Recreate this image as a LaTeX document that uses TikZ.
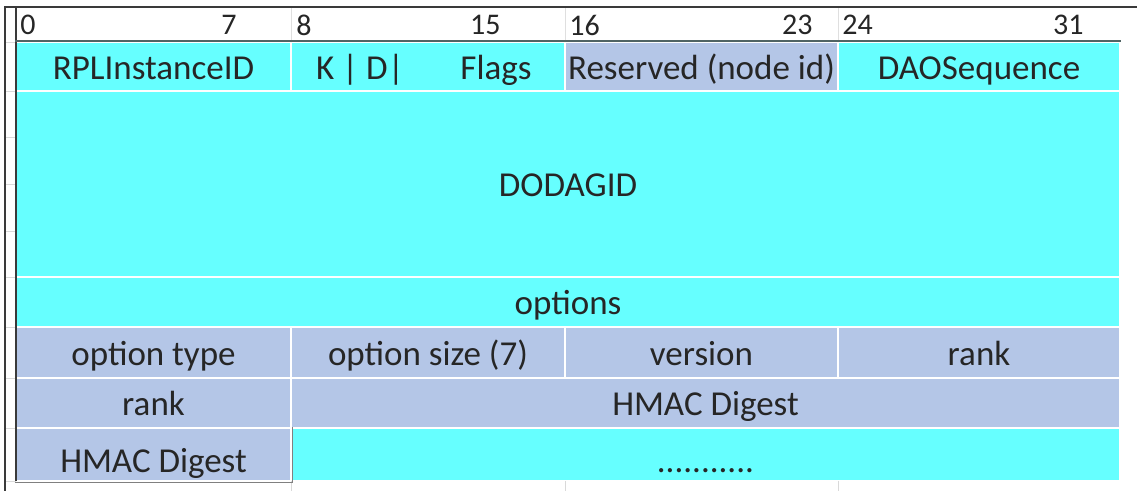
\documentclass[tikz,border=0pt]{standalone}
\usepackage{fontspec}
\setmainfont{Carlito}
\usetikzlibrary{positioning}
\definecolor{cellcyan}{HTML}{66FFFF}
\definecolor{cellgray}{HTML}{B4C6E7}
\definecolor{framegray}{HTML}{3A3A3A}
\definecolor{rulegray}{HTML}{506464}
\tikzset{
  cell/.style 2 args={draw=white, line width=1.25pt, inner sep=0pt,
    minimum width=#1*0.5pt, minimum height=#2*0.5pt,
    text height=15pt, text depth=2.3pt,
    font=\fontsize{17.5}{21}\selectfont, text=black!85},
  lowtext/.style={text height=20pt},
  celltext/.style={inner sep=0pt, text height=15pt, text depth=2.3pt,
    font=\fontsize{17.5}{21}\selectfont, text=black!85},
  bitnum/.style={inner sep=0pt, font=\fontsize{15}{18}\selectfont, text=black!85},
}
\begin{document}
\begin{tikzpicture}[x=0.5pt, y=-0.5pt]
    \useasboundingbox[fill=white] (0,0) rectangle (1137,491);

    % first word
    \node[cell={275}{49}, fill=cellcyan] (rplid) at (153.5,66.5) {RPLInstanceID};
    \node[cell={274}{49}, fill=cellcyan] (flags) at (428,66.5) {};
    \node[celltext] (kdbits) at (360,66.5) {K | D|};
    \node[celltext] (flagtxt) at (496,66.5) {Flags};
    \node[cell={273}{49}, fill=cellgray] (resv) at (701.5,66.5) {Reserved (node id)};
    \node[cell={282}{49}, fill=cellcyan] (daoseq) at (979,66.5) {DAOSequence};

    % DODAGID and options
    \node[cell={1104}{186}, fill=cellcyan] (dodagid) at (568,184) {DODAGID};
    \node[cell={1104}{50}, fill=cellcyan] (options) at (568,302) {options};

    % option fields
    \node[cell={275}{51}, fill=cellgray] (opttype) at (153.5,352.5) {option type};
    \node[cell={274}{51}, fill=cellgray] (optsize) at (428,352.5) {option size (7)};
    \node[cell={273}{51}, fill=cellgray] (version) at (701.5,352.5) {version};
    \node[cell={282}{51}, fill=cellgray] (ranka) at (979,352.5) {rank};
    \node[cell={275}{50}, fill=cellgray] (rankb) at (153.5,403) {rank};
    \node[cell={829}{50}, fill=cellgray] (hmaca) at (705.5,403) {HMAC Digest};
    \node[cell={275}{53}, fill=cellgray, lowtext] (hmacb) at (153.5,454.5) {HMAC Digest};
    \node[cell={829}{53}, fill=cellcyan, lowtext] (more) at (705.5,454.5) {...........};

    % bit numbers
    \node[bitnum, anchor=west] (b0) at (20,25) {0};
    \node[bitnum, anchor=east] (b7) at (237,25) {7};
    \node[bitnum, anchor=west] (b8) at (296,25) {8};
    \node[bitnum, anchor=east] (b15) at (501,25) {15};
    \node[bitnum, anchor=west] (b16) at (569,25) {16};
    \node[bitnum, anchor=east] (b23) at (813,25) {23};
    \node[bitnum, anchor=west] (b24) at (842,25) {24};
    \node[bitnum, anchor=east] (b31) at (1084,25) {31};

    % sheet frame and faint grid
    \foreach \y in {42,91,137,184,231,277,327,378,428,481}
      \draw[gray!30, line width=0.4pt] (5,\y) -- (16,\y);
    \foreach \x in {291,565,838}
      \draw[gray!30, line width=0.4pt] (\x,481) -- (\x,491);
    \foreach \x in {291,565,838}
      \draw[gray!25, line width=0.4pt] (\x,7) -- (\x,41);
    \draw[framegray, line width=0.8pt] (5,491) -- (5,7) -- (1137,7);
    \draw[framegray, line width=0.9pt] (16,7) -- (16,481);
    \draw[rulegray, line width=1.1pt] (rplid.north west) -- (daoseq.north east);
    \draw[gray, line width=0.7pt] (hmacb.south west) -- (hmacb.south east) -- (hmacb.north east);
  \end{tikzpicture}
\end{document}
